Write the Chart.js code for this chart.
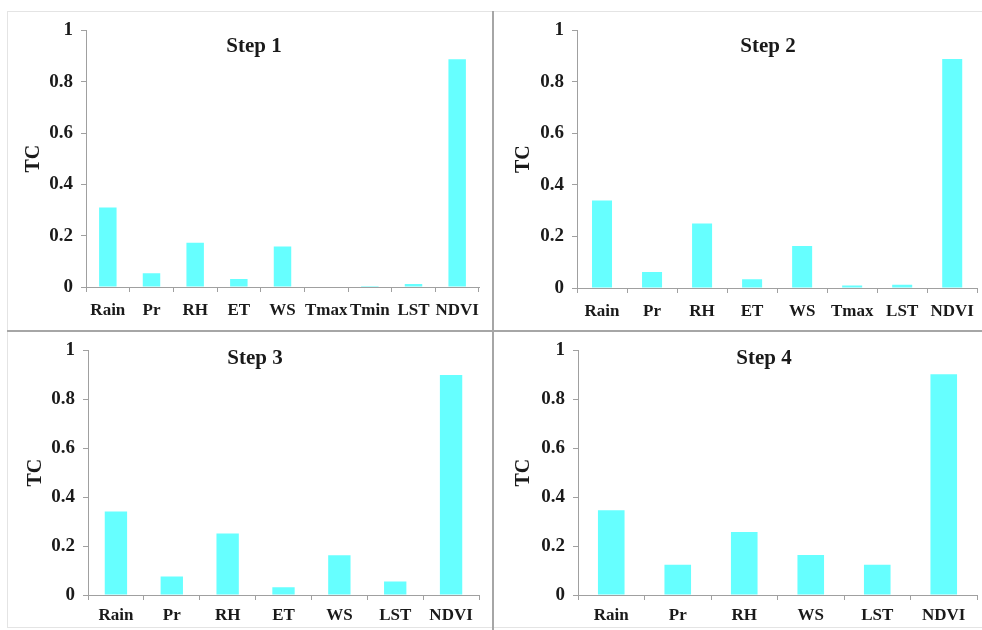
<!DOCTYPE html>
<html lang="en">
<head>
    <meta charset="UTF-8">
    <title>TC by step</title>
    <script src="https://cdn.jsdelivr.net/npm/chart.js"></script>
    <style>
        body {
            margin: 0;
            width: 982px;
            height: 630px;
            background: #fff;
            position: relative;
            overflow: hidden;
            font-family: 'Liberation Serif', 'Times New Roman', serif;
        }
        canvas {
            position: absolute;
        }
        .line {
            position: absolute;
            z-index: 2;
        }
        .light { background: #e4e4e4; }
        .dark { background: #a6a6a6; }
        .step-title {
            position: absolute;
            z-index: 3;
            font-weight: bold;
            font-size: 21px;
            color: #1a1a1a;
            transform: translate(-50%, -50%);
            white-space: nowrap;
        }
    </style>
</head>
<body>
    <div class="line light" style="left:7px; top:11px; width:975px; height:1px;"></div>
    <div class="line light" style="left:7px; top:11px; width:1px; height:617px;"></div>
    <div class="line light" style="left:7px; top:627px; width:975px; height:1px;"></div>
    <div class="line dark" style="left:492px; top:11px; width:2px; height:619px;"></div>
    <div class="line dark" style="left:7px; top:330px; width:975px; height:2px;"></div>

    <canvas id="chart1" width="486" height="320" style="left:7px; top:11px;"></canvas>
    <canvas id="chart2" width="489" height="320" style="left:493px; top:11px;"></canvas>
    <canvas id="chart3" width="486" height="299" style="left:7px; top:331px;"></canvas>
    <canvas id="chart4" width="489" height="299" style="left:493px; top:331px;"></canvas>

    <div class="step-title" style="left:254px; top:45px;">Step 1</div>
    <div class="step-title" style="left:768px; top:45px;">Step 2</div>
    <div class="step-title" style="left:255px; top:357px;">Step 3</div>
    <div class="step-title" style="left:764px; top:357px;">Step 4</div>

    <script>
        // values
        const labels1 = ['Rain', 'Pr', 'RH', 'ET', 'WS', 'Tmax', 'Tmin', 'LST', 'NDVI'];
        const values1 = [0.31, 0.054, 0.172, 0.031, 0.158, 0.002, 0.004, 0.012, 0.888];

        const labels2 = ['Rain', 'Pr', 'RH', 'ET', 'WS', 'Tmax', 'LST', 'NDVI'];
        const values2 = [0.34, 0.062, 0.25, 0.034, 0.163, 0.01, 0.013, 0.889];

        const labels3 = ['Rain', 'Pr', 'RH', 'ET', 'WS', 'LST', 'NDVI'];
        const values3 = [0.341, 0.076, 0.251, 0.032, 0.162, 0.055, 0.899];

        const labels4 = ['Rain', 'Pr', 'RH', 'WS', 'LST', 'NDVI'];
        const values4 = [0.346, 0.124, 0.258, 0.164, 0.124, 0.902];

        const yMin = 0;
        const yMax = 1;
        const yStep = 0.2;
        const yTitle = 'TC';

        const serif = "'Liberation Serif', 'Times New Roman', serif";
        const axisGray = '#a0a0a0';
        const textColor = '#1a1a1a';
        const barColor = '#66ffff';

        function makeChart(id, labels, values, g) {
            const ctx = document.getElementById(id).getContext('2d');
            return new Chart(ctx, {
                type: 'bar',
                data: {
                    labels: labels,
                    datasets: [{
                        data: values,
                        backgroundColor: barColor,
                        borderWidth: 0,
                        categoryPercentage: 1,
                        barPercentage: 0.4
                    }]
                },
                options: {
                    responsive: false,
                    animation: false,
                    devicePixelRatio: 1,
                    layout: {
                        padding: { top: g.padTop, right: g.padRight, left: 0, bottom: 0 }
                    },
                    plugins: {
                        legend: { display: false },
                        tooltip: { enabled: false }
                    },
                    scales: {
                        x: {
                            afterFit: s => { s.height = g.xHeight; },
                            grid: {
                                drawOnChartArea: false,
                                drawTicks: true,
                                tickLength: 5,
                                color: axisGray
                            },
                            border: { color: axisGray, width: 1 },
                            ticks: {
                                autoSkip: false,
                                maxRotation: 0,
                                padding: g.xPad,
                                color: textColor,
                                font: { family: serif, size: 17, weight: 'bold' }
                            }
                        },
                        y: {
                            min: yMin,
                            max: yMax,
                            afterFit: s => { s.width = g.yWidth; },
                            grid: {
                                drawOnChartArea: false,
                                drawTicks: true,
                                tickLength: 5,
                                color: axisGray
                            },
                            border: { color: axisGray, width: 1 },
                            ticks: {
                                stepSize: yStep,
                                padding: 8,
                                color: textColor,
                                font: { family: serif, size: 19, weight: 'bold' },
                                callback: v => String(Number(v.toFixed(2)))
                            },
                            title: {
                                display: true,
                                text: yTitle,
                                color: textColor,
                                padding: { top: g.titlePad, bottom: 0 },
                                font: { family: serif, size: 20, weight: 'bold' }
                            }
                        }
                    }
                }
            });
        }

        makeChart('chart1', labels1, values1, { padTop: 18, padRight: 14, yWidth: 79, xHeight: 44, xPad: 8, titlePad: 15 });
        makeChart('chart2', labels2, values2, { padTop: 19, padRight: 1, yWidth: 84, xHeight: 43, xPad: 8, titlePad: 19 });
        makeChart('chart3', labels3, values3, { padTop: 17, padRight: 14, yWidth: 81, xHeight: 35, xPad: 5, titlePad: 17 });
        makeChart('chart4', labels4, values4, { padTop: 18, padRight: 5, yWidth: 85, xHeight: 35, xPad: 5, titlePad: 19 });
    </script>
</body>
</html>
